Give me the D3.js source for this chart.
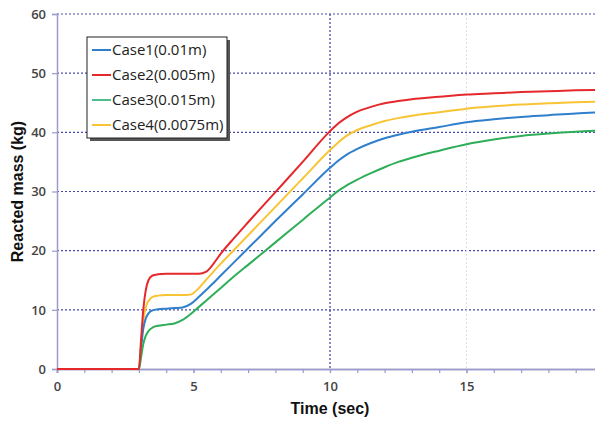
<!DOCTYPE html>
<html>
<head>
<meta charset="utf-8">
<script src="https://cdn.jsdelivr.net/npm/d3@7"></script>
<style>
  html, body { margin: 0; padding: 0; background: #fff; }
  svg { display: block; }
</style>
</head>
<body>
<div id="chart"></div>
<script>
// time samples (sec), shared by all four cases
var times = [0, 3, 3.08, 3.16, 3.25, 3.35, 3.5, 3.7, 4.0, 4.3, 4.6, 4.9, 5.2, 5.45, 5.7, 6.0, 6.5, 7, 8, 9, 10,
             10.3, 10.6, 11, 11.5, 12, 12.5, 13, 14, 15, 16, 17, 18, 19, 20];

// reacted mass (kg)
var case1 = [0, 0, 3.5, 6.8, 8.5, 9.4, 9.9, 10.1, 10.2, 10.3, 10.4, 11.0, 12.2, 13.3, 14.4, 15.8, 18.1, 20.4, 25.0, 29.5, 34.0,
             35.2, 36.2, 37.2, 38.2, 39.0, 39.6, 40.1, 40.9, 41.7, 42.2, 42.6, 42.9, 43.2, 43.4];
var case2 = [0, 0, 5.0, 10.0, 13.3, 15.0, 15.8, 16.0, 16.1, 16.1, 16.1, 16.1, 16.1, 16.4, 17.6, 19.5, 22.2, 24.8, 29.9, 35.0, 40.2,
             41.5, 42.5, 43.5, 44.3, 44.9, 45.3, 45.6, 46.0, 46.4, 46.6, 46.8, 46.95, 47.1, 47.2];
var case3 = [0, 0, 2.0, 4.2, 5.6, 6.4, 7.0, 7.3, 7.5, 7.7, 8.3, 9.3, 10.5, 11.5, 12.5, 13.7, 15.7, 17.6, 21.4, 25.2, 29.0,
             30.1, 31.0, 32.0, 33.1, 34.1, 35.0, 35.7, 36.9, 38.0, 38.8, 39.4, 39.8, 40.1, 40.3];
var case4 = [0, 0, 4.2, 8.0, 10.4, 11.5, 12.2, 12.4, 12.5, 12.5, 12.5, 12.6, 13.7, 15.0, 16.3, 17.8, 20.2, 22.6, 27.4, 32.2, 37.0,
             38.3, 39.4, 40.4, 41.2, 41.9, 42.4, 42.8, 43.4, 44.0, 44.4, 44.7, 44.9, 45.1, 45.2];

var seriesNames = ["Case1(0.01m)", "Case2(0.005m)", "Case3(0.015m)", "Case4(0.0075m)"];
var seriesColors = ["#2f7fcc", "#e5282c", "#2fae5a", "#f7c534"];
var legendColors = ["#2f7fcc", "#e5282c", "#4cbf8c", "#f7c534"];
var seriesValues = [case1, case2, case3, case4];

var yTicks = [0, 10, 20, 30, 40, 50, 60];
var xTicks = [0, 5, 10, 15];

var width = 595,
    height = 423;

var x = d3.scaleLinear().domain([0, 20]).range([57, 603]);
var y = d3.scaleLinear().domain([0, 60]).range([369, 14]);

var svg = d3.select("#chart")
  .append("svg")
  .attr("width", width)
  .attr("height", height)
  .style("font-family", "'Open Sans', 'Liberation Sans', sans-serif");

// horizontal grid lines
svg.append("g")
  .selectAll("line")
  .data(yTicks.filter(function(d) { return d > 0; }))
  .enter().append("line")
    .attr("x1", x(0))
    .attr("x2", width)
    .attr("y1", function(d) { return y(d); })
    .attr("y2", function(d) { return y(d); })
    .attr("stroke", "#4a4aaa")
    .attr("stroke-width", 1.2)
    .attr("stroke-dasharray", "2,2");

// vertical grid lines: dark at 10, faint at 15
svg.append("line")
  .attr("x1", x(10)).attr("x2", x(10))
  .attr("y1", y(60)).attr("y2", y(0))
  .attr("stroke", "#3a3aa0")
  .attr("stroke-width", 1.2)
  .attr("stroke-dasharray", "2,2");

svg.append("line")
  .attr("x1", x(15)).attr("x2", x(15))
  .attr("y1", y(60)).attr("y2", y(0))
  .attr("stroke", "#d8dcef")
  .attr("stroke-width", 1)
  .attr("stroke-dasharray", "2,2");

// axes
var xAxisMinor = d3.axisBottom(x).tickValues(d3.range(0, 21, 1)).tickSize(4).tickFormat("");
var xAxis = d3.axisBottom(x).tickValues(xTicks).tickSize(4).tickPadding(9);
var yAxis = d3.axisLeft(y).tickValues(yTicks).tickSize(5).tickPadding(6);

var gxMinor = svg.append("g")
  .attr("transform", "translate(0," + y(0) + ")")
  .call(xAxisMinor);

var gx = svg.append("g")
  .attr("transform", "translate(0," + y(0) + ")")
  .call(xAxis);

var gy = svg.append("g")
  .attr("transform", "translate(" + x(0) + ",0)")
  .call(yAxis);

[gxMinor, gx, gy].forEach(function(g) {
  g.select(".domain").attr("stroke", "#9a9acc").attr("stroke-width", 1.5);
  g.selectAll(".tick line").attr("stroke", "#9a9acc").attr("stroke-width", 1.2);
  g.selectAll(".tick text")
    .attr("fill", "#444")
    .style("font-size", "13px")
    .style("font-weight", "600")
    .style("font-family", "'Open Sans', sans-serif");
});

// curves
var line = d3.line()
  .x(function(d) { return x(d[0]); })
  .y(function(d) { return y(d[1]); })
  .curve(d3.curveMonotoneX);

var drawOrder = [3, 0, 2, 1];
drawOrder.forEach(function(i) {
  svg.append("path")
    .datum(times.map(function(t, k) { return [t, seriesValues[i][k]]; }))
    .attr("fill", "none")
    .attr("stroke", seriesColors[i])
    .attr("stroke-width", 2)
    .attr("d", line);
});

// axis titles
svg.append("text")
  .text("Time (sec)")
  .attr("x", x(10))
  .attr("y", 414)
  .attr("text-anchor", "middle")
  .style("font-family", "'Liberation Sans', Arial, sans-serif")
  .style("font-size", "16px")
  .style("font-weight", "bold")
  .attr("fill", "#111");

svg.append("text")
  .text("Reacted mass (kg)")
  .attr("transform", "translate(23," + y(30) + ") rotate(-90)")
  .attr("text-anchor", "middle")
  .style("font-family", "'Liberation Sans', Arial, sans-serif")
  .style("font-size", "16px")
  .style("font-weight", "bold")
  .attr("fill", "#111");

// legend
var legend = svg.append("g").attr("transform", "translate(87,37)");

legend.append("rect")
  .attr("x", 3).attr("y", 3)
  .attr("width", 140).attr("height", 101)
  .attr("fill", "#555");

legend.append("rect")
  .attr("x", 0).attr("y", 0)
  .attr("width", 140).attr("height", 101)
  .attr("fill", "#fff")
  .attr("stroke", "#222")
  .attr("stroke-width", 1);

var items = legend.selectAll(".item")
  .data(seriesNames)
  .enter().append("g")
    .attr("transform", function(d, i) { return "translate(0," + (13 + i * 25) + ")"; });

items.append("line")
  .attr("x1", 5).attr("x2", 24)
  .attr("stroke", function(d, i) { return legendColors[i]; })
  .attr("stroke-width", 2);

items.append("text")
  .text(function(d) { return d; })
  .attr("x", 25)
  .attr("dy", "0.35em")
  .attr("fill", "#222")
  .style("font-size", "15px")
  .style("font-family", "'Open Sans', sans-serif");
</script>
</body>
</html>
